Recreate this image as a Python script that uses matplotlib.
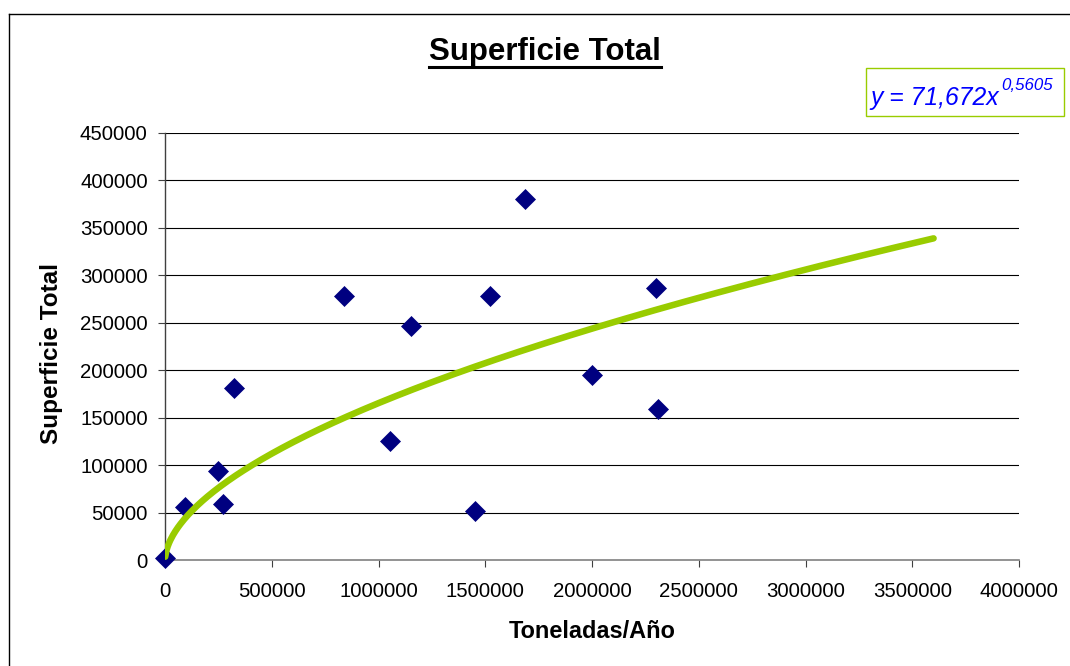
import numpy as np
import matplotlib
matplotlib.use("Agg")
import matplotlib.pyplot as plt
from matplotlib.lines import Line2D
from matplotlib.patches import Rectangle

plt.rcParams['font.family'] = ['Liberation Sans', 'DejaVu Sans']

# Observations: annual tonnage vs. total surface
toneladas = [0, 93700, 248000, 271700, 323000, 838000, 1054000, 1152000,
             1452000, 1522000, 1686000, 2000000, 2300000, 2309000]
superficie = [2000, 55900, 93800, 59000, 181000, 278000, 125000, 246500,
              51600, 278000, 380500, 195000, 286700, 159000]

# Power trendline y = a * x^b
coef_a = 71.672
coef_b = 0.5605
trend_x_start = 1000
trend_x_end = 3600000

x_ticks = [0, 500000, 1000000, 1500000, 2000000, 2500000, 3000000, 3500000, 4000000]
y_ticks = [0, 50000, 100000, 150000, 200000, 250000, 300000, 350000, 400000, 450000]

W, H = 1070, 666
fig = plt.figure(figsize=(W / 100, H / 100), dpi=100)
ax = fig.add_axes([165 / W, 1 - 560 / H, (1019 - 165) / W, (560 - 133) / H])


def fx(px):
    return px / W


def fy(py):
    return 1 - py / H


ax.set_xlim(0, 4000000)
ax.set_ylim(0, 450000)
ax.set_xticks(x_ticks)
ax.set_yticks(y_ticks)
ax.set_xticklabels([str(v) for v in x_ticks], fontsize=14.7)
ax.set_yticklabels([str(v) for v in y_ticks], fontsize=14.7)

for v in y_ticks[1:]:
    ax.axhline(v, color='black', lw=0.8, zorder=1)

for side in ('top', 'right'):
    ax.spines[side].set_visible(False)
ax.spines['left'].set_color('#404040')
ax.spines['bottom'].set_color('#808080')
ax.spines['left'].set_linewidth(1.0)
ax.spines['bottom'].set_linewidth(1.2)
ax.tick_params(axis='y', direction='out', length=5, width=0.8, color='#404040', pad=7.5)
ax.tick_params(axis='x', direction='out', length=5, width=0.8, color='#404040', pad=11)

ax.plot(toneladas, superficie, linestyle='none', marker='D', markersize=9.8,
        markerfacecolor='#000080', markeredgecolor='#000080', markeredgewidth=0.5,
        zorder=3, clip_on=False)

tx = np.linspace(trend_x_start, trend_x_end, 600)
ty = coef_a * tx ** coef_b
ax.plot(tx, ty, color='#99CC00', lw=4.7, solid_capstyle='round', zorder=4)

# Axis titles
fig.text(fx(592), fy(632), 'Toneladas/Año', fontsize=16.9, fontweight='bold',
         ha='center', va='center')
fig.text(fx(52), fy(354), 'Superficie Total', fontsize=17.5, fontweight='bold',
         ha='center', va='center', rotation=90)

# Title with underline
title = fig.text(fx(545), fy(60), 'Superficie Total', fontsize=22.5,
                 fontweight='bold', ha='center', va='baseline')
fig.canvas.draw()
bb = title.get_window_extent()
fig.add_artist(Line2D([bb.x0 / W, bb.x1 / W], [fy(66.5), fy(66.5)], color='black',
                      lw=2.2, transform=fig.transFigure))

# Equation box
fig.add_artist(Rectangle((fx(865.5), fy(115.5)), (1064 - 865.5) / W, (115.5 - 68.5) / H,
                         transform=fig.transFigure, facecolor='white',
                         edgecolor='#99CC00', lw=1.0))
eq_main = fig.text(fx(870), fy(105), 'y = 71,672x', fontsize=17.8, color='#0000FF',
                   style='italic', ha='left', va='baseline')
fig.canvas.draw()
eb = eq_main.get_window_extent()
fig.text((eb.x1 + 3) / W, fy(90), '0,5605', fontsize=12.2, color='#0000FF',
         style='italic', ha='left', va='baseline')

# Outer chart frame (left and top edges)
fig.add_artist(Line2D([fx(8.5), fx(8.5)], [0, fy(13.5)], color='black', lw=1.0,
                      transform=fig.transFigure))
fig.add_artist(Line2D([fx(8.5), 1], [fy(13.5), fy(13.5)], color='black', lw=1.0,
                      transform=fig.transFigure))

fig.savefig('out.png', dpi=100)
